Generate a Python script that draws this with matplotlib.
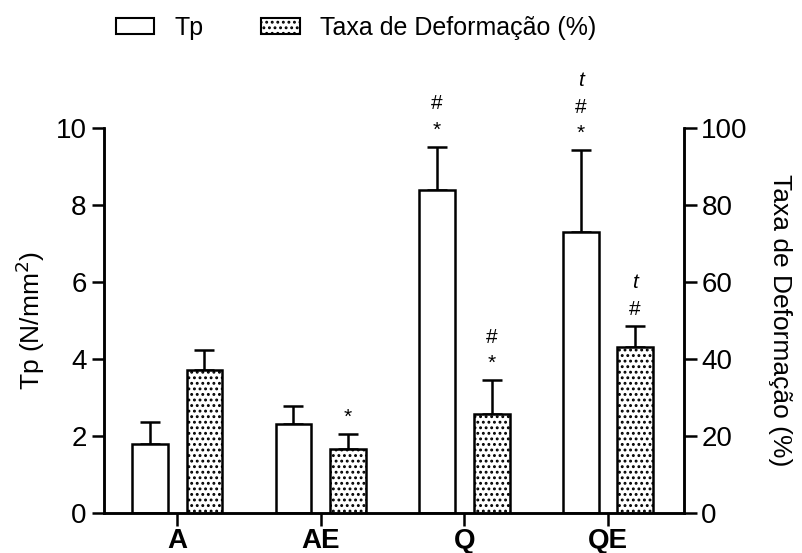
import numpy as np
import matplotlib
matplotlib.use("Agg")
import matplotlib.pyplot as plt
from matplotlib.patches import Patch

plt.rcParams['font.family'] = ['Liberation Sans', 'DejaVu Sans']
plt.rcParams['hatch.linewidth'] = 1.3

# group means and upper SEM
groups = ['A', 'AE', 'Q', 'QE']
tp = [1.8, 2.3, 8.4, 7.3]
tp_err = [0.56, 0.48, 1.11, 2.13]
taxa = [37.1, 16.6, 25.7, 43.1]
taxa_err = [5.2, 3.9, 8.8, 5.5]

# significance marks drawn above each bar (bottom to top)
tp_marks = [[], [], ['*', '#'], ['*', '#', 't']]
taxa_marks = [[], ['*'], ['*', '#'], ['#', 't']]

fig = plt.figure(figsize=(8.03, 5.53), dpi=100)
ax = fig.add_axes([0.1295, 0.0723, 0.7223, 0.696])
ax2 = ax.twinx()

x = np.arange(len(groups))
w = 0.25
off = 0.19

ax.bar(x - off, tp, w, color='white', edgecolor='black', linewidth=1.8, zorder=2)
ax.errorbar(x - off, tp, yerr=[np.zeros(len(tp)), tp_err], fmt='none',
            ecolor='black', elinewidth=1.8, capsize=7.5, capthick=1.8, zorder=1)

ax2.bar(x + off, taxa, w, color='white', edgecolor='black', hatch='...',
        linewidth=1.8, zorder=2)
ax2.errorbar(x + off, taxa, yerr=[np.zeros(len(taxa)), taxa_err], fmt='none',
             ecolor='black', elinewidth=1.8, capsize=7.5, capthick=1.8, zorder=1)


def put_marks(axis, xs, tops, marks):
    for xi, top, ms in zip(xs, tops, marks):
        for k, m in enumerate(ms):
            style = 'italic' if m == 't' else 'normal'
            dy = 12 + 19 * k
            axis.annotate(m, (xi, top), xytext=(0, dy), textcoords='offset points',
                          ha='center', va='center', fontsize=15, style=style,
                          annotation_clip=False)


put_marks(ax, x - off, np.add(tp, tp_err), tp_marks)
put_marks(ax2, x + off, np.add(taxa, taxa_err), taxa_marks)

ax.set_xlim(-0.51, 3.53)
ax.set_ylim(0, 10)
ax2.set_ylim(0, 100)
ax.set_yticks([0, 2, 4, 6, 8, 10])
ax2.set_yticks([0, 20, 40, 60, 80, 100])
ax.set_xticks(x)
ax.set_xticklabels(groups, fontweight='bold', fontsize=19)

for a in (ax, ax2):
    a.spines['top'].set_visible(False)
    for s in a.spines.values():
        s.set_linewidth(1.8)
    a.tick_params(width=1.8, length=9, labelsize=20)
ax.tick_params(axis='x', length=9, pad=2)

ax.set_ylabel('Tp (N/mm$^2$)', fontsize=19, labelpad=6)
ax2.set_ylabel('Taxa de Deformação (%)', fontsize=19, rotation=270, labelpad=32)

handles = [Patch(facecolor='white', edgecolor='black', linewidth=1.5),
           Patch(facecolor='white', edgecolor='black', hatch='...', linewidth=1.5)]
fig.legend(handles, ['Tp', 'Taxa de Deformação (%)'], loc='center',
           bbox_to_anchor=(0.443, 0.95), ncol=2, frameon=False, fontsize=18,
           handlelength=1.55, handleheight=0.6, columnspacing=2.3, handletextpad=0.8)

fig.savefig('out.png', dpi=100)
